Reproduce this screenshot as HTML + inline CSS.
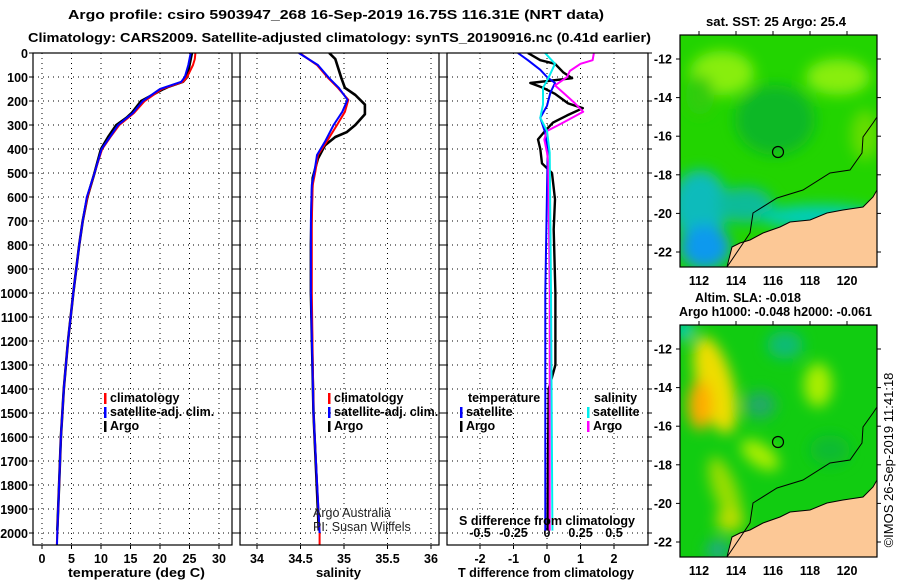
<!DOCTYPE html>
<html><head><meta charset="utf-8"><style>
body{margin:0;background:#fff;}
svg{display:block;font-family:"Liberation Sans",sans-serif;}
.b{font-weight:bold;font-size:12.5px;}
</style></head><body>
<svg id="c" width="900" height="580" viewBox="0 0 900 580" xmlns="http://www.w3.org/2000/svg">
<defs>
<filter id="bl" x="-50%" y="-50%" width="200%" height="200%"><feGaussianBlur stdDeviation="7"/></filter>
<clipPath id="m1c"><rect x="680" y="35" width="197" height="232"/></clipPath>
<clipPath id="m2c"><rect x="680" y="325" width="197" height="232"/></clipPath>
<clipPath id="p1c"><rect x="33" y="53" width="199" height="492"/></clipPath>
<clipPath id="p2c"><rect x="240" y="53" width="199" height="492"/></clipPath>
<clipPath id="p3c"><rect x="447" y="53" width="201" height="492"/></clipPath>
</defs>
<text class="b" x="68" y="19" font-size="15" textLength="536" lengthAdjust="spacingAndGlyphs">Argo profile: csiro 5903947_268 16-Sep-2019 16.75S 116.31E (NRT data)</text>
<text class="b" x="28" y="42" font-size="15" textLength="623" lengthAdjust="spacingAndGlyphs">Climatology: CARS2009. Satellite-adjusted climatology: synTS_20190916.nc (0.41d earlier)</text>
<g id="grids"></g>
<g id="lines"></g>
<g id="frames"></g>
<g id="maps"></g>
</svg>
<script>
// ---- data ----
const climDepth=[0,25,50,100,120,150,200,250,300,350,400,500,600,700,800,1000,1200,1400,1600,1800,2000,2050];
const tempClim=[26,25.9,25.6,24.6,23.9,20.3,17.4,15.6,13.1,11.6,10.2,8.9,7.7,6.9,6.3,5.3,4.4,3.7,3.2,2.9,2.6,2.5];
const tempSat=[25.2,25,24.8,24.2,23.6,20,17.1,15.4,12.9,11.5,10.1,8.9,7.6,6.9,6.3,5.3,4.4,3.7,3.2,2.9,2.6,2.55];
const argoDepth=[0,25,50,100,120,140,150,200,250,270,300,350,400,500,600,700,800,1000,1200,1400,1600,1800,1990];
const tempArgo=[25.4,25.2,25,24.6,23.9,21.5,20.6,16.8,15.2,14.3,12.6,11.2,10.0,8.9,7.7,6.9,6.3,5.3,4.4,3.7,3.2,2.9,2.6];
const salDepth=[0,50,105,145,195,245,300,370,425,495,550,700,1000,1500,2000,2050];
const salClim=[34.49,34.69,34.82,34.93,35.05,35.01,34.92,34.8,34.7,34.67,34.64,34.63,34.63,34.65,34.72,34.72];
const salSat=[34.48,34.7,34.83,34.94,35.04,34.98,34.88,34.78,34.69,34.66,34.63,34.62,34.62,34.65,34.72,34.72];
const salArgoDepth=[0,25,105,145,175,215,255,300,330,350,385,440,520,600,800,1000,1500,1990];
const salArgo=[34.83,34.9,34.97,35.01,35.13,35.24,35.24,35.13,35.03,34.9,34.78,34.7,34.64,34.63,34.62,34.62,34.65,34.71];
const dTArgoDepth=[0,30,45,80,105,125,145,170,210,230,260,290,325,360,400,460,500,610,735,1000,1300,1400,1700,1990];
const dTArgo=[-0.57,-0.2,0.24,0.48,0.75,-0.5,-0.12,0.24,0.63,1.07,0.6,0.18,-0.06,-0.27,-0.2,-0.15,0.15,0.24,0.2,0.25,0.25,0.05,0.03,0.02];
const dTSatDepth=[0,30,70,100,125,165,220,270,330,400,1000,1990];
const dTSat=[-0.87,-0.57,-0.2,0,0.24,0.1,0,-0.2,-0.06,0.02,-0.05,-0.05];
const dSArgoDepth=[0,30,45,75,100,135,170,205,245,290,325,360,415,455,1000,1990];
const dSArgo=[0.35,0.34,0.25,0.17,0.15,0.06,0.13,0.2,0.27,0.12,0,-0.02,0,0.01,0.02,0.02];
const dSSatDepth=[0,45,105,145,215,270,325,415,1000,1990];
const dSSat=[-0.015,0.06,0.01,-0.03,-0.03,-0.05,0,0.02,0.03,0.04];
const depthTicks=[0,100,200,300,400,500,600,700,800,900,1000,1100,1200,1300,1400,1500,1600,1700,1800,1900,2000];
const tempTicks=[0,5,10,15,20,25,30];
const salTicks=[34,34.5,35,35.5,36];
const salTickLabels=["34","34.5","35","35.5","36"];
const tdTicks=[-2,-1,0,1,2];
const sdTicks=[-0.5,-0.25,0,0.25,0.5];
const sdTickLabels=["-0.5","-0.25","0","0.25","0.5"];
const latTicks=[-12,-14,-16,-18,-20,-22];
const lonTicks=[112,114,116,118,120];

// ---- scales ----
const yD=d=>53+d*0.24;
const xT=t=>42+t*5.9;
const xS=s=>257+(s-34)*87;
const xTD=v=>547+v*33.5;
const xSD=v=>547+v*134;
const NS="http://www.w3.org/2000/svg";
function mk(tag,attrs,parent,txt){const e=document.createElementNS(NS,tag);for(const k in attrs)e.setAttribute(k,attrs[k]);if(txt!==undefined)e.textContent=txt;parent.appendChild(e);return e;}
const G=document.getElementById('grids'),L=document.getElementById('lines'),F=document.getElementById('frames'),M=document.getElementById('maps');
const panels=[{x0:33,x1:232,clip:'p1c'},{x0:240,x1:439,clip:'p2c'},{x0:447,x1:648,clip:'p3c'}];
const dot={stroke:'#000','stroke-width':1,'stroke-dasharray':'1,4'};
panels.forEach((p,i)=>{
  depthTicks.forEach(d=>{
    const l=mk('line',Object.assign({x1:p.x0,x2:p.x1,y1:yD(d),y2:yD(d)},dot),G);
    
    
    mk('line',{x1:p.x0-4,x2:p.x0,y1:yD(d),y2:yD(d),stroke:'#000'},G);
    mk('line',{x1:p.x1,x2:p.x1+4,y1:yD(d),y2:yD(d),stroke:'#000'},G);
  });
});
depthTicks.forEach(d=>{
  const t=mk('text',{x:28,y:yD(d)+5,'text-anchor':'end',class:'b','font-size':'13'},G,String(d));
  
  
});
function vgrid(ticks,labels,fx,p,ly){
  ticks.forEach((v,i)=>{
    const l=mk('line',Object.assign({x1:fx(v),x2:fx(v),y1:53,y2:545},dot),G);
    
    
    mk('line',{x1:fx(v),x2:fx(v),y1:545,y2:549,stroke:'#000'},G);
    if(ly){const t=mk('text',{x:fx(v),y:ly,'text-anchor':'middle',class:'b','font-size':'13'},G,labels[i]);
    
    }
  });
}
vgrid(tempTicks,tempTicks.map(String),xT,panels[0],563);
vgrid(salTicks,salTickLabels,xS,panels[1],563);
vgrid(tdTicks,tdTicks.map(String),xTD,panels[2],563);
sdTicks.forEach((v,i)=>{
  const t=mk('text',{x:xSD(v),y:537,'text-anchor':'middle',class:'b','font-size':'13'},G,sdTickLabels[i]);
  
  
});
function line(xs,ds,fx,color,clip,name,w){
  const pts=xs.map((v,i)=>fx(v).toFixed(1)+','+yD(ds[i]).toFixed(1)).join(' ');
  const e=mk('polyline',{points:pts,fill:'none',stroke:color,'stroke-width':w||2,'clip-path':'url(#'+clip+')','stroke-linejoin':'round'},L);
  
  
}
line(tempArgo,argoDepth,xT,'#000','p1c','temp-argo-line',2.6);
line(tempClim,climDepth,xT,'#f00','p1c','temp-climatology-line');
line(tempSat,climDepth,xT,'#00f','p1c','temp-satellite-line');
line(salArgo,salArgoDepth,xS,'#000','p2c','sal-argo-line',2.6);
line(salClim,salDepth,xS,'#f00','p2c','sal-climatology-line');
line(salSat,salDepth.slice(0,15),xS,'#00f','p2c','sal-satellite-line');
line(dTArgo,dTArgoDepth,xTD,'#000','p3c','tdiff-argo-line',2.4);
line(dTSat,dTSatDepth,xTD,'#00f','p3c','tdiff-satellite-line');
line(dSArgo,dSArgoDepth,xSD,'#f0f','p3c','sdiff-argo-line');
line(dSSat,dSSatDepth,xSD,'#0ee','p3c','sdiff-satellite-line');
panels.forEach((p,i)=>{
  const r=mk('rect',{x:p.x0,y:53,width:p.x1-p.x0,height:492,fill:'none',stroke:'#000','stroke-width':1.2},F);
  
  
});
const xtitles=[['temperature (deg C)',68,137],['salinity',316,45],['T difference from climatology',458,176]];
xtitles.forEach(([s,x,w])=>{
  const t=mk('text',{x:x,y:577,class:'b','font-size':'14',textLength:w,lengthAdjust:'spacingAndGlyphs'},F,s);
  
  
});
const st=mk('text',{x:459,y:525,class:'b','font-size':'14',textLength:176,lengthAdjust:'spacingAndGlyphs'},F,'S difference from climatology');


function leg(x,y,c,s){
  mk('rect',{x:x,y:y-9,width:2.5,height:11,fill:c},F);
  const t=mk('text',{x:x+6,y:y,class:'b','font-size':'12.5'},F,s);
  
  
}
leg(104,402,'#f00','climatology');leg(104,416,'#00f','satellite-adj. clim.');leg(104,430,'#000','Argo');
leg(328,402,'#f00','climatology');leg(328,416,'#00f','satellite-adj. clim.');leg(328,430,'#000','Argo');
const lt=mk('text',{x:468,y:402,class:'b','font-size':'12.5'},F,'temperature');


const ls=mk('text',{x:594,y:402,class:'b','font-size':'12.5'},F,'salinity');


leg(460,416,'#00f','satellite');leg(460,430,'#000','Argo');
leg(587,416,'#0ee','satellite');leg(587,430,'#f0f','Argo');
const a1=mk('text',{x:313,y:517,'font-size':'12.5',fill:'#222'},F,'Argo Australia');


const a2=mk('text',{x:313,y:531,'font-size':'12.5',fill:'#222'},F,'PI: Susan Wijffels');



// ---- maps ----
const lonX=lon=>699+(lon-112)*18.5;
const latY=(lat,y0)=>y0+(-12-lat)*19.3;
const land=[[727,232],[732,212],[740,208],[750,205],[763,198],[780,192],[790,187],[810,185],[827,178],[843,175],[863,172],[873,162],[877,155],[877,232]];
const contour=[[727,232],[750,198],[753,178],[777,163],[803,155],[830,138],[850,135],[862,118],[863,102],[873,88],[877,82]];
function drawMap(y0,clip,base,blobs,name){
  const g=mk('g',{'clip-path':'url(#'+clip+')'},M);
  
  
  mk('rect',{x:680,y:y0,width:197,height:232,fill:base},g);
  const bg=mk('g',{filter:'url(#bl)'},g);
  blobs.forEach(b=>mk('ellipse',{cx:b[0],cy:y0+b[1],rx:b[2],ry:b[3],fill:b[4],transform:'rotate('+(b[5]||0)+' '+b[0]+' '+(y0+b[1])+')'},bg));
  mk('polygon',{points:land.map(p=>p[0]+','+(p[1]+y0)).join(' '),fill:'#fcc896',stroke:'#000','stroke-width':1},g);
  mk('polyline',{points:contour.map(p=>p[0]+','+(p[1]+y0)).join(' '),fill:'none',stroke:'#000','stroke-width':1},g);
  const c=mk('circle',{cx:778,cy:y0+117,r:5.5,fill:'none',stroke:'#000','stroke-width':1.2},g);
  
  
  mk('rect',{x:680,y:y0,width:197,height:232,fill:'none',stroke:'#000','stroke-width':1.2},M);
  latTicks.forEach(lat=>{
    const y=latY(lat,y0+24);
    mk('line',{x1:676,x2:680,y1:y,y2:y,stroke:'#000'},M);
    mk('line',{x1:877,x2:881,y1:y,y2:y,stroke:'#000'},M);
    const t=mk('text',{x:672,y:y+4.5,'text-anchor':'end',class:'b','font-size':'13'},M,String(lat));
    
    
  });
  lonTicks.forEach(lon=>{
    const x=lonX(lon);
    mk('line',{x1:x,x2:x,y1:y0-4,y2:y0,stroke:'#000'},M);
    const t=mk('text',{x:x,y:y0+250,'text-anchor':'middle',class:'b','font-size':'13'},M,String(lon));
    
    
  });
}
drawMap(35,'m1c','#22d400',[
 [722,38,32,22,'#88ee11'],[838,42,32,18,'#88ee11'],[775,85,40,35,'#10b828'],[700,60,14,20,'#33cc11'],
 [700,170,28,35,'#11bbbb'],[705,212,25,22,'#1199ee'],[745,170,28,18,'#11bb99'],[820,182,60,12,'#00ccbb'],[865,100,14,25,'#66dd00']
],'sst-map');
drawMap(325,'m2c','#11cc11',[
 [715,60,18,50,'#eedd00',-15],[700,80,12,25,'#ffaa00'],[818,60,14,22,'#aaee00'],[760,130,22,11,'#aaee00',35],
 [725,165,12,35,'#99dd00',-20],[730,195,14,12,'#bbdd00'],[785,20,18,14,'#11bb77'],[760,80,16,14,'#22aa66'],[718,225,12,10,'#22aa88'],[684,5,10,10,'#00ccbb'],[830,125,20,15,'#11bb33']
],'sla-map');
const mt=[['sat. SST: 25 Argo: 25.4',706,26,140],['Altim. SLA: -0.018',695,302,106],['Argo h1000: -0.048 h2000: -0.061',679,316,193]];
mt.forEach(([s,x,y,w])=>{
  const t=mk('text',{x:x,y:y,class:'b','font-size':'13',textLength:w,lengthAdjust:'spacingAndGlyphs'},M,s);
  
  
});
const cr=mk('text',{x:0,y:0,'text-anchor':'middle','font-size':'13',transform:'translate(893,460) rotate(-90)'},M,'©IMOS 26-Sep-2019 11:41:18');


</script>
</body></html>
